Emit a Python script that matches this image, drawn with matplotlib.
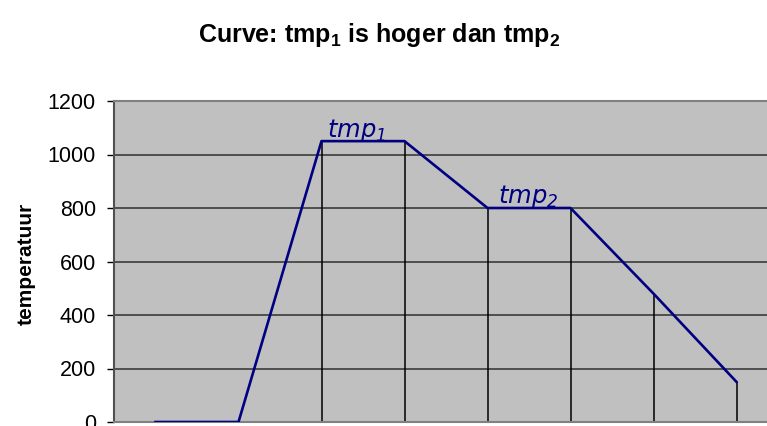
import matplotlib
matplotlib.use("Agg")
import matplotlib.pyplot as plt

# temperature curve, one value per step
steps = [0, 1, 2, 3, 4, 5, 6, 7]
temps = [0, 0, 1050, 1050, 800, 800, 480, 150]
yticks = [0, 200, 400, 600, 800, 1000, 1200]

plt.rcParams['font.family'] = ['Liberation Sans', 'DejaVu Sans']
plt.rcParams['mathtext.default'] = 'regular'

W, H = 767, 426
fig = plt.figure(figsize=(W / 100, H / 100), dpi=100)
ax = fig.add_axes([114 / W, 4 / H, 664 / W, 321 / H])
ax.set_facecolor('#C0C0C0')

for y in yticks[1:-1]:
    ax.axhline(y, color='#303030', lw=1.1, zorder=1)

ax.vlines(steps, 0, temps, colors='black', lw=1.1, zorder=2)
ax.plot(steps, temps, color='#000080', lw=1.9, zorder=3)

ax.set_xlim(-0.5, 7.5)
ax.set_ylim(0, 1200)
ax.set_yticks(yticks)
ax.set_xticks([])
ax.tick_params(axis='y', labelsize=15.5, length=5, width=1, pad=8, colors='black')

for side in ('top', 'bottom'):
    ax.spines[side].set_color('#808080')
    ax.spines[side].set_linewidth(1.5)
ax.spines['left'].set_color('#505050')
ax.spines['left'].set_linewidth(1.5)
ax.spines['right'].set_visible(False)

ax.text(2.07, 1066, 'tmp$_1$', color='#000080', fontsize=17.5, style='italic',
        family='DejaVu Sans', va='baseline', ha='left')
ax.text(4.13, 820, 'tmp$_2$', color='#000080', fontsize=17.5, style='italic',
        family='DejaVu Sans', va='baseline', ha='left')

fig.text(379 / W, 1 - 41.7 / H, 'Curve: tmp$_1$ is hoger dan tmp$_2$',
         fontsize=18, fontweight='bold', ha='center', va='baseline')
fig.text(26 / W, 1 - 264 / H, 'temperatuur', fontsize=15, fontweight='bold',
         rotation=90, ha='center', va='center')

fig.savefig('out.png', dpi=100)
